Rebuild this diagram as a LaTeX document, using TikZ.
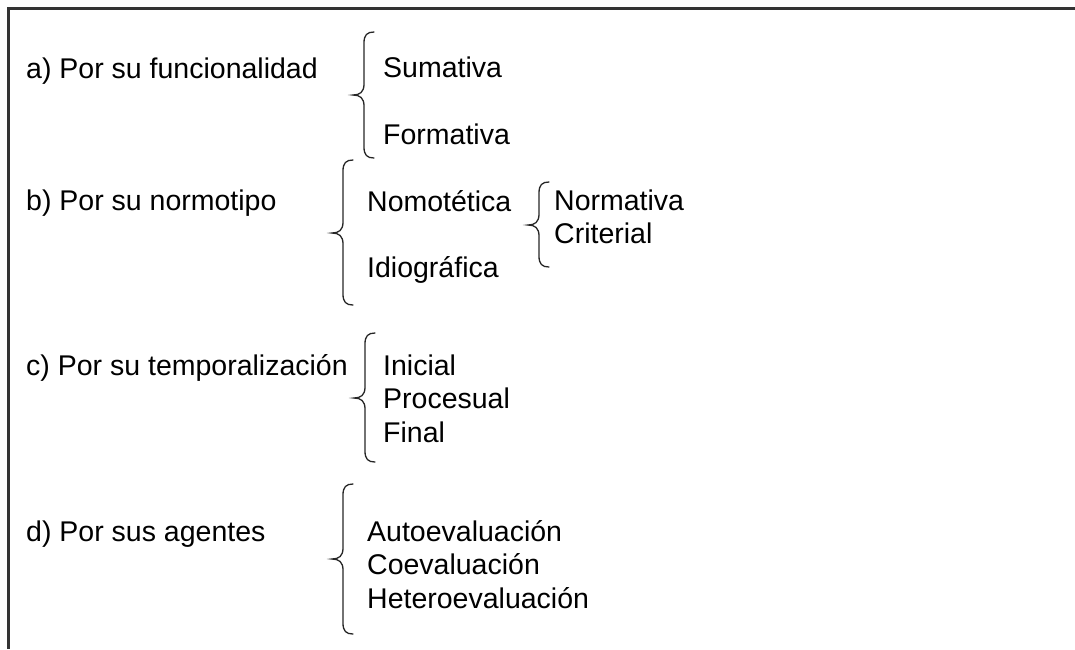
\documentclass[tikz,border=0pt]{standalone}
\usepackage{fontspec}
\setmainfont{Liberation Sans}
\newcommand{\curlybr}[4]{%
\draw[bracestyle] ({#1+10},#2) .. controls ({#1+3},#2) and (#1,{#2+3}) .. (#1,{#2+11})
  -- (#1,{#3-11}) .. controls (#1,{#3-3}) and ({#1-4},#3) .. ({#1-11},#3)
  .. controls ({#1-4},#3) and (#1,{#3+3}) .. (#1,{#3+11})
  -- (#1,{#4-11}) .. controls (#1,{#4-3}) and ({#1+3},#4) .. ({#1+10},#4);}
\tikzset{
  lbl/.style={anchor=base west, inner sep=0pt, font=\fontsize{28.5}{34}\selectfont, text=black},
  bracestyle/.style={draw=black!85, line width=1.3pt, line cap=round},
  frame/.style={draw=black!80, line width=2.2pt}
}
\begin{document}
\begin{tikzpicture}[x=1pt,y=-1pt]
\useasboundingbox (0,0) rectangle (1075,649);
\draw[frame] (1075,8.5) -- (8.5,8.5) -- (8.5,649);
% a
\node[lbl] (a) at (26,78) {a) Por su funcionalidad};
\curlybr{364}{32}{95}{158}
\node[lbl] (a1) at (383,77) {Sumativa};
\node[lbl] (a2) at (383,144) {Formativa};
% b
\node[lbl] (b) at (26,210) {b) Por su normotipo};
\curlybr{343}{160}{233}{305}
\node[lbl] (b1) at (367,211) {Nomotética};
\node[lbl] (b2) at (367,277) {Idiográfica};
\curlybr{539}{182}{225}{267}
\node[lbl] (b11) at (554,210) {Normativa};
\node[lbl] (b12) at (554,243) {Criterial};
% c
\node[lbl] (c) at (26,375) {c) Por su temporalización};
\curlybr{365}{333}{398}{462}
\node[lbl] (c1) at (383,375) {Inicial};
\node[lbl] (c2) at (383,408) {Procesual};
\node[lbl] (c3) at (383,442) {Final};
% d
\node[lbl] (d) at (26,541) {d) Por sus agentes};
\curlybr{343}{484}{559}{634}
\node[lbl] (d1) at (367,541) {Autoevaluación};
\node[lbl] (d2) at (367,574) {Coevaluación};
\node[lbl] (d3) at (367,608) {Heteroevaluación};
\end{tikzpicture}
\end{document}
